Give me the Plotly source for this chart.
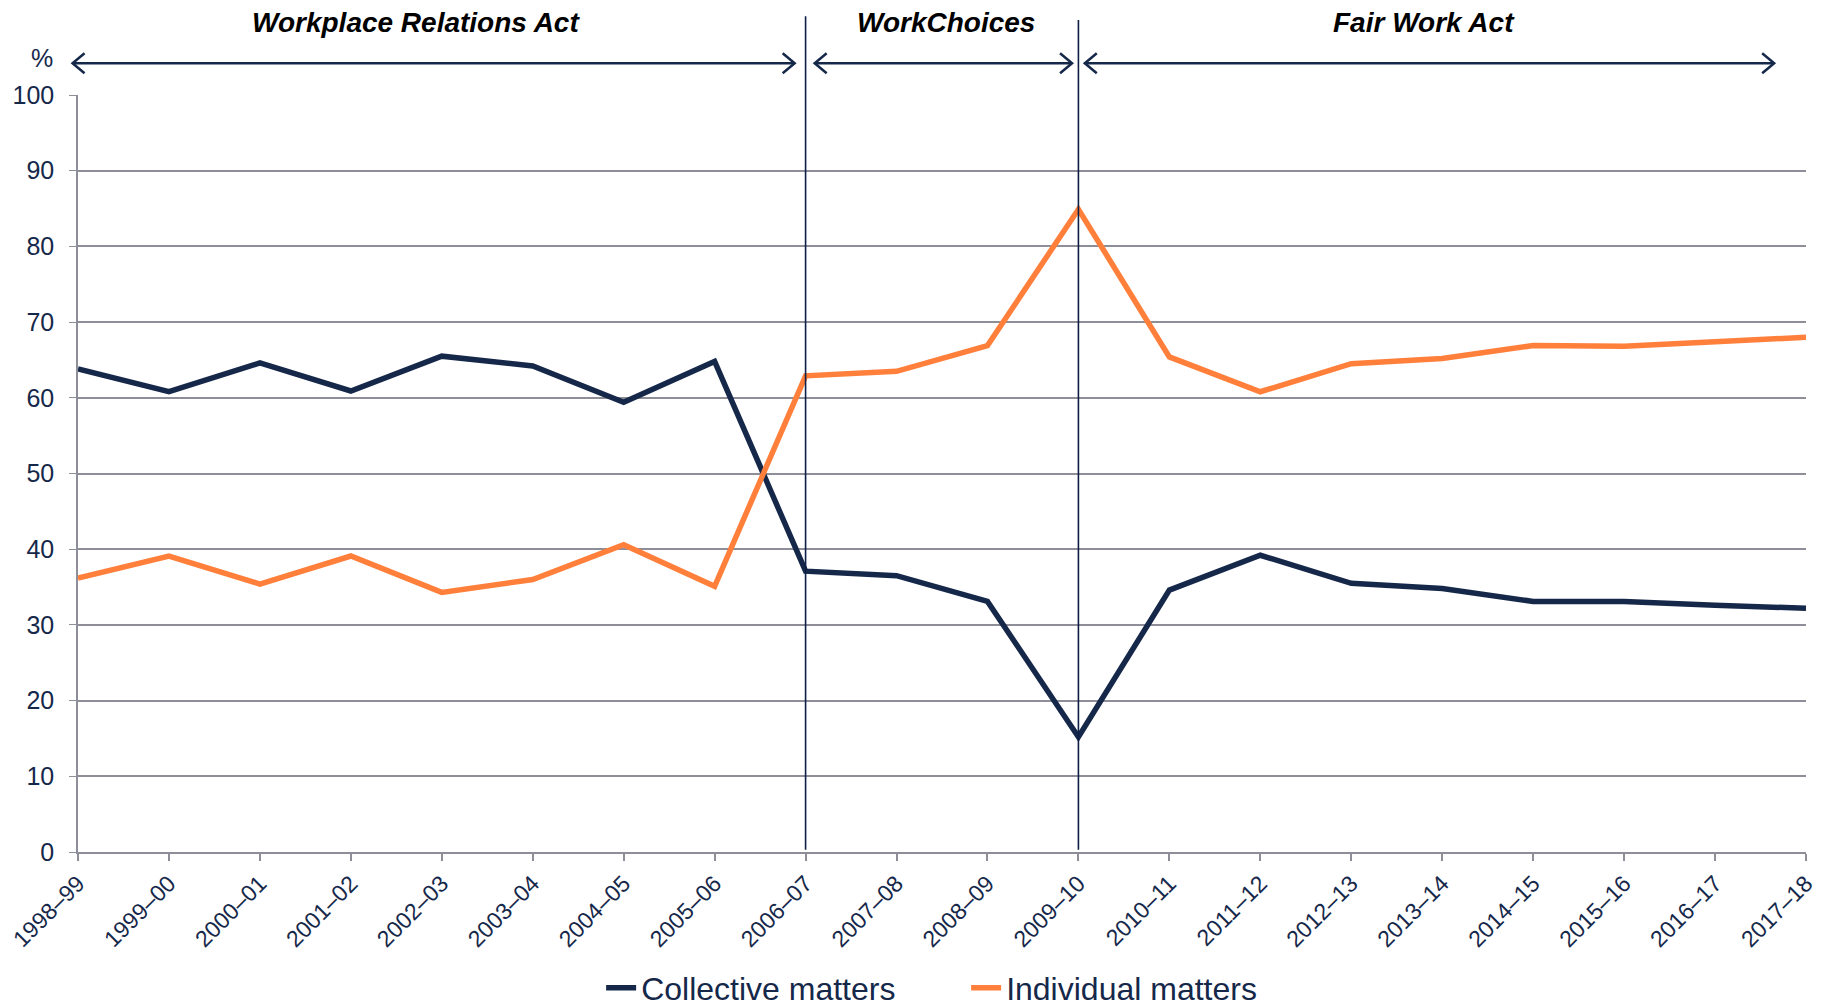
import plotly.graph_objects as go

years = ["1998–99", "1999–00", "2000–01", "2001–02", "2002–03", "2003–04", "2004–05",
         "2005–06", "2006–07", "2007–08", "2008–09", "2009–10", "2010–11", "2011–12",
         "2012–13", "2013–14", "2014–15", "2015–16", "2016–17", "2017–18"]
collective = [63.8, 60.8, 64.6, 60.9, 65.5, 64.2, 59.4, 64.8, 37.1, 36.5, 33.1, 15.2,
              34.6, 39.2, 35.5, 34.8, 33.1, 33.1, 32.6, 32.2]
individual = [36.2, 39.1, 35.4, 39.1, 34.3, 36.0, 40.6, 35.1, 62.9, 63.5, 66.9, 84.9,
              65.4, 60.8, 64.5, 65.2, 66.9, 66.8, 67.4, 68.0]
yticks = [0, 10, 20, 30, 40, 50, 60, 70, 80, 90, 100]

# periods: (label, label position, arrow start, arrow end) in category units
periods = [("Workplace Relations Act", 3.72, -0.06, 7.88),
           ("WorkChoices", 9.54, 8.10, 10.93),
           ("Fair Work Act", 14.8, 11.07, 18.65)]
dividers = [8, 11]

NAVY = "#16284a"
ORANGE = "#ff7f3b"
GRID = "#8e8e98"
FONT = "Liberation Sans, Arial, sans-serif"

x = list(range(len(years)))
n = len(years) - 1

fig = go.Figure()
fig.add_trace(go.Scatter(x=x, y=collective, mode="lines", name="Collective matters",
                         line=dict(color=NAVY, width=5.5)))
fig.add_trace(go.Scatter(x=x, y=individual, mode="lines", name="Individual matters",
                         line=dict(color=ORANGE, width=5.5)))

shapes = []
for d, top in zip(dividers, [1.104, 1.099]):
    shapes.append(dict(type="line", xref="x", yref="paper", x0=d, x1=d, y0=0.003, y1=top,
                       line=dict(color="#0d1f45", width=1.6), layer="above"))

ARROW_Y = 1.042  # y domain fraction
for label, lx, a0, a1 in periods:
    shapes.append(dict(type="line", xref="x domain", yref="y domain",
                       x0=a0 / n, x1=a1 / n, y0=ARROW_Y, y1=ARROW_Y,
                       line=dict(color=NAVY, width=2.5)))
    shapes.append(dict(type="path", xref="x domain", yref="y domain",
                       xsizemode="pixel", ysizemode="pixel",
                       xanchor=a0 / n, yanchor=ARROW_Y,
                       path="M 12,10 L 0,0 L 12,-10",
                       line=dict(color=NAVY, width=2.5)))
    shapes.append(dict(type="path", xref="x domain", yref="y domain",
                       xsizemode="pixel", ysizemode="pixel",
                       xanchor=a1 / n, yanchor=ARROW_Y,
                       path="M -12,10 L 0,0 L -12,-10",
                       line=dict(color=NAVY, width=2.5)))

annotations = []
for label, lx, a0, a1 in periods:
    annotations.append(dict(text="<b><i>" + label + "</i></b>", x=lx, xref="x",
                            y=1.096, yref="paper", showarrow=False,
                            xanchor="center", yanchor="middle",
                            font=dict(family=FONT, size=28, color="#000000")))
annotations.append(dict(text="%", x=-0.021, xref="paper", y=1.049, yref="paper",
                        showarrow=False, xanchor="center", yanchor="middle",
                        font=dict(family=FONT, size=25, color=NAVY)))

# page body adds an 8px offset; margins compensate for it
fig.update_layout(
    width=1825, height=1004,
    margin=dict(l=70, r=27, t=87, b=160),
    paper_bgcolor="white", plot_bgcolor="white",
    font=dict(family=FONT, color=NAVY),
    showlegend=True,
    legend=dict(orientation="h", xref="container", yref="container",
                x=0.525, xanchor="center", y=0.024, yanchor="middle",
                font=dict(family=FONT, size=32, color=NAVY),
                entrywidth=320, entrywidthmode="pixels",
                bgcolor="rgba(0,0,0,0)"),
    shapes=shapes, annotations=annotations,
    xaxis=dict(range=[0, n], tickvals=x, ticktext=years, tickangle=-45, automargin=False,
               ticklabeloverflow="allow",
               showgrid=False, zeroline=False, showline=True, linecolor=GRID, linewidth=2,
               ticks="outside", ticklen=7, tickcolor=GRID, tickwidth=1.5,
               tickfont=dict(family=FONT, size=23, color=NAVY)),
    yaxis=dict(range=[0, 100], tickvals=yticks, showgrid=True, gridcolor=GRID, gridwidth=2,
               automargin=False, ticklabelstandoff=10, ticklabeloverflow="allow",
               zeroline=False, showline=True, linecolor=GRID, linewidth=1.5,
               ticks="outside", ticklen=7, tickcolor=GRID,
               tickfont=dict(family=FONT, size=25, color=NAVY)),
)

fig.write_html("out.html")
